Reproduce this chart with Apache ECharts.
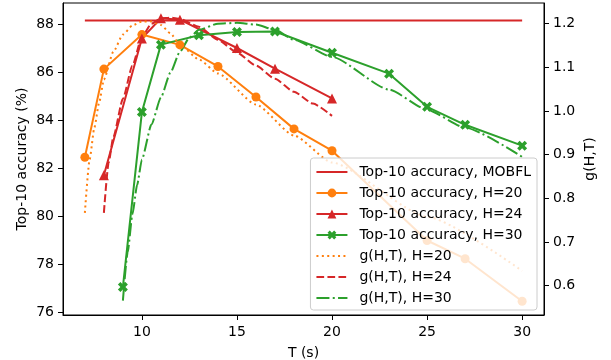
<!DOCTYPE html>
<html>
<head>
<meta charset="utf-8">
<script src="https://cdn.jsdelivr.net/npm/echarts@6/dist/echarts.min.js"></script>
<style>
  html, body { margin: 0; padding: 0; background: #fff; }
  #chart { width: 611px; height: 360px; }
</style>
</head>
<body>
<div id="chart"></div>
<script>
// accuracy curves (left axis)
const tMobfl = [7, 30];
const accMobfl = [88.15, 88.15];
const t20 = [7, 8, 10, 12, 14, 16, 18, 20, 25, 27, 30];
const acc20 = [82.45, 86.12, 87.56, 87.13, 86.23, 84.96, 83.63, 82.72, 78.98, 78.22, 76.45];
const t24 = [8, 10, 11, 12, 15, 17, 20];
const acc24 = [81.7, 87.4, 88.24, 88.18, 87.0, 86.14, 84.9];
const t30 = [9, 10, 11, 13, 15, 17, 20, 23, 25, 27, 30];
const acc30 = [77.04, 84.33, 87.14, 87.53, 87.67, 87.69, 86.8, 85.93, 84.55, 83.8, 82.93];

// g(H,T) curves (right axis)
const gT20 = [7, 7.25, 7.5, 7.75, 8, 8.5, 9, 9.5, 10, 10.5, 11, 11.5, 12, 13, 14, 16, 18, 20, 25, 30];
const g20 = [0.767, 0.889, 0.962, 1.019, 1.072, 1.136, 1.175, 1.196, 1.205, 1.205, 1.197, 1.178, 1.152, 1.118, 1.086, 1.015, 0.944, 0.882, 0.758, 0.634];
const gT24 = [8, 8.25, 8.5, 9, 9.5, 10, 10.5, 11, 11.5, 12, 13, 14, 15, 16, 17, 18, 19, 20];
const g24 = [0.767, 0.882, 0.941, 1.028, 1.104, 1.170, 1.200, 1.212, 1.214, 1.211, 1.193, 1.163, 1.134, 1.104, 1.074, 1.044, 1.017, 0.989];
const gT30 = [9, 9.25, 9.5, 9.75, 10, 10.5, 11, 11.5, 12, 12.5, 13, 14, 15, 16, 17, 18, 20, 23, 25, 27, 30];
const g30 = [0.566, 0.676, 0.763, 0.831, 0.889, 0.969, 1.031, 1.088, 1.136, 1.168, 1.186, 1.200, 1.202, 1.198, 1.186, 1.163, 1.124, 1.049, 1.003, 0.962, 0.895];

// tick labels
const xTicks = [10, 15, 20, 25, 30];
const yLeftTicks = [76, 78, 80, 82, 84, 86, 88];
const yRightTicks = [0.6, 0.7, 0.8, 0.9, 1.0, 1.1, 1.2];

const ORANGE = '#ff7f0e', RED = '#d62728', GREEN = '#2ca02c';
const FONT = 'DejaVu Sans';
const xMarker = 'path://M25,0 L50,25 L75,0 L100,25 L75,50 L100,75 L75,100 L50,75 L25,100 L0,75 L25,50 L0,25 Z';

function pairs(xs, ys) { return xs.map((x, i) => [x, ys[i]]); }

function accSeries(name, xs, ys, color, symbol, size) {
  return {
    name: name, type: 'line', yAxisIndex: 0,
    data: pairs(xs, ys),
    symbol: symbol, symbolSize: size,
    showSymbol: symbol !== 'none',
    lineStyle: { color: color, width: 2 },
    itemStyle: { color: color },
    emphasis: { disabled: true },
    animation: false
  };
}

function gSeries(name, xs, ys, color, dash) {
  return {
    name: name, type: 'line', yAxisIndex: 1,
    data: pairs(xs, ys),
    symbol: 'none', smooth: 0.2, smoothMonotone: 'x',
    lineStyle: { color: color, width: 2, type: dash },
    itemStyle: { color: color },
    emphasis: { disabled: true },
    animation: false
  };
}

const axisCommon = {
  axisLine: { show: true, lineStyle: { color: '#000', width: 1 } },
  axisTick: { show: true, length: 5, lineStyle: { color: '#000', width: 1 } },
  splitLine: { show: false },
  nameMoveOverlap: false,
  nameTextStyle: { color: '#000', fontFamily: FONT, fontSize: 14 }
};

// legend entries without a marker: hide the fallback symbol
const lineOnly = name => ({ name: name, itemStyle: { opacity: 0 } });

const chart = echarts.init(document.getElementById('chart'), null, { renderer: 'canvas' });
chart.setOption({
  animation: false,
  grid: { left: 63, right: 67, top: 3, bottom: 45, outerBoundsMode: 'none',
    show: true, borderColor: '#000', borderWidth: 1, backgroundColor: 'transparent' },
  xAxis: Object.assign({}, axisCommon, {
    type: 'value', min: 5.85, max: 31.15,
    name: 'T (s)', nameLocation: 'middle', nameGap: 31,
    axisTick: Object.assign({}, axisCommon.axisTick, { customValues: xTicks }),
    axisLabel: { customValues: xTicks, color: '#000', fontFamily: FONT, fontSize: 14, margin: 10 }
  }),
  yAxis: [
    Object.assign({}, axisCommon, {
      type: 'value', min: 75.875, max: 88.875, position: 'left',
      name: 'Top-10 accuracy (%)', nameLocation: 'middle', nameRotate: 90, nameGap: 34,
      axisTick: Object.assign({}, axisCommon.axisTick, { customValues: yLeftTicks }),
      axisLabel: { customValues: yLeftTicks, color: '#000', fontFamily: FONT, fontSize: 14, margin: 9 }
    }),
    Object.assign({}, axisCommon, {
      type: 'value', min: 0.533, max: 1.2474, position: 'right',
      name: 'g(H,T)', nameLocation: 'middle', nameRotate: 90, nameGap: 39,
      axisTick: Object.assign({}, axisCommon.axisTick, { customValues: yRightTicks }),
      axisLabel: { customValues: yRightTicks, color: '#000', fontFamily: FONT, fontSize: 14, margin: 9,
        formatter: v => v.toFixed(1) }
    })
  ],
  legend: {
    orient: 'vertical', right: 74, bottom: 50, z: 10,
    backgroundColor: 'rgba(255,255,255,0.8)', borderColor: '#cccccc', borderWidth: 1, borderRadius: 3,
    padding: [7, 6, 5, 5],
    itemWidth: 31, itemHeight: 11, itemGap: 7,
    textStyle: { color: '#000', fontFamily: FONT, fontSize: 14, padding: [0, 0, 0, 7] },
    data: [lineOnly('Top-10 accuracy, MOBFL'), 'Top-10 accuracy, H=20', 'Top-10 accuracy, H=24', 'Top-10 accuracy, H=30',
           lineOnly('g(H,T), H=20'), lineOnly('g(H,T), H=24'), lineOnly('g(H,T), H=30')]
  },
  series: [
    accSeries('Top-10 accuracy, MOBFL', tMobfl, accMobfl, RED, 'none', 0),
    accSeries('Top-10 accuracy, H=20', t20, acc20, ORANGE, 'circle', 9),
    accSeries('Top-10 accuracy, H=24', t24, acc24, RED, 'triangle', 10),
    accSeries('Top-10 accuracy, H=30', t30, acc30, GREEN, xMarker, 10),
    gSeries('g(H,T), H=20', gT20, g20, ORANGE, [2, 3.4]),
    gSeries('g(H,T), H=24', gT24, g24, RED, [7.7, 3.3]),
    gSeries('g(H,T), H=30', gT30, g30, GREEN, [13, 3.3, 2, 3.3])
  ]
});
</script>
</body>
</html>
